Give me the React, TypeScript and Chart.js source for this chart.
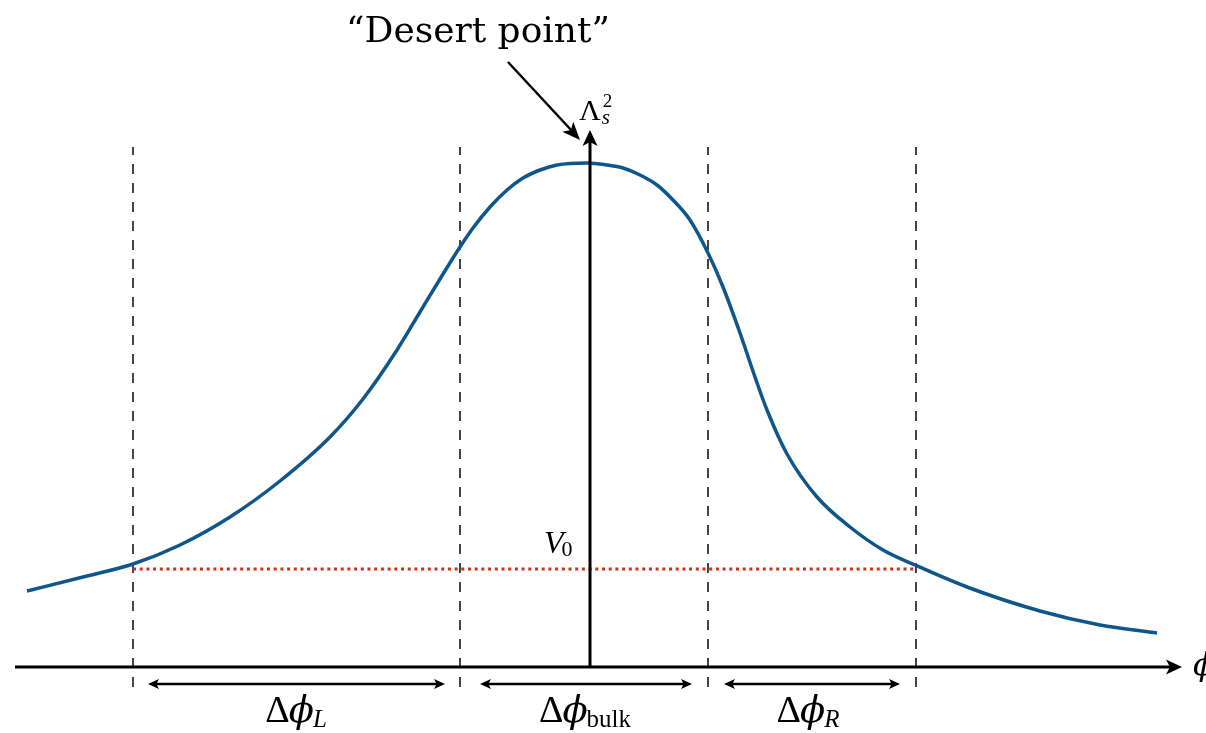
import React, { useEffect, useRef } from "react";
import { Chart, registerables } from "chart.js";
Chart.register(...registerables);

// Curve of the potential Λ_s^2 as a function of φ
const curvePhi = [-5.63, -5.07, -4.57, -4.1, -3.6, -3.1, -2.6, -2.27, -1.93, -1.7, -1.5, -1.3, -1.17, -1.0, -0.83, -0.67, -0.5, -0.33, -0.03, 0.17, 0.33, 0.5, 0.67, 0.83, 1.0, 1.18, 1.33, 1.5, 1.65, 1.77, 1.97, 2.27, 2.6, 2.93, 3.25, 3.77, 4.5, 5.1, 5.67];
const curveV = [0.76, 0.9, 1.03, 1.22, 1.5, 1.86, 2.3, 2.68, 3.17, 3.55, 3.88, 4.2, 4.39, 4.6, 4.77, 4.89, 4.97, 5.02, 5.04, 5.02, 4.99, 4.92, 4.82, 4.67, 4.47, 4.14, 3.8, 3.34, 2.9, 2.57, 2.13, 1.7, 1.4, 1.17, 1.02, 0.8, 0.56, 0.42, 0.34];

// Region boundaries (dashed verticals)
const boundaryPhi = [-4.57, -1.3, 1.18, 3.26];
const boundaryV = [-0.2, 5.2];

// V0 level
const v0Level = 0.98;
const v0Span = [-4.57, 3.26];

// Axes
const xAxisSpan = [-5.75, 5.92];
const yAxisSpan = [0, 5.37];

// Interval arrows
const intervalStart = [-4.42, -1.1, 1.34];
const intervalEnd = [-1.45, 1.02, 3.1];
const intervalLevel = -0.17;
const intervalLabelPhi = [-2.93, -0.04, 2.19];
const intervalSubs = ["L", "bulk", "R"];
const intervalSubItalic = [true, false, true];

// Annotation arrow
const desertFrom = [-0.82, 6.05];
const desertTo = [-0.1, 5.27];
const desertLabel = "\u201CDesert point\u201D";

const X_MIN = -5.9;
const X_MAX = 6.16;
const Y_MIN = -0.66;
const Y_MAX = 6.67;

function pts(xs: number[], ys: number[]) {
  return xs.map((x, i) => ({ x, y: ys[i] }));
}

function arrowHead(ctx: CanvasRenderingContext2D, tx: number, ty: number, angle: number, len: number, half: number) {
  ctx.save();
  ctx.translate(tx, ty);
  ctx.rotate(angle);
  ctx.beginPath();
  ctx.moveTo(0, 0);
  ctx.lineTo(-len, -half);
  ctx.lineTo(-len * 0.75, 0);
  ctx.lineTo(-len, half);
  ctx.closePath();
  ctx.fill();
  ctx.restore();
}

const overlay = {
  id: "overlay",
  afterDatasetsDraw(chart: any) {
    const ctx: CanvasRenderingContext2D = chart.ctx;
    const xs = chart.scales.x;
    const ys = chart.scales.y;
    const px = (v: number) => xs.getPixelForValue(v);
    const py = (v: number) => ys.getPixelForValue(v);
    ctx.save();
    ctx.fillStyle = "#000";
    // x axis arrow
    arrowHead(ctx, px(xAxisSpan[1]), py(0), 0, 16, 7.5);
    // y axis arrow
    arrowHead(ctx, px(0), py(yAxisSpan[1]), -Math.PI / 2, 16, 7.5);
    // interval arrows
    for (let i = 0; i < intervalStart.length; i++) {
      arrowHead(ctx, px(intervalEnd[i]), py(intervalLevel), 0, 11, 5);
      arrowHead(ctx, px(intervalStart[i]), py(intervalLevel), Math.PI, 11, 5);
    }
    // desert arrow
    {
      const x1 = px(desertFrom[0]), y1 = py(desertFrom[1]);
      const x2 = px(desertTo[0]), y2 = py(desertTo[1]);
      arrowHead(ctx, x2, y2, Math.atan2(y2 - y1, x2 - x1), 18, 7.5);
    }

    ctx.textBaseline = "alphabetic";
    // Desert point label
    ctx.font = "36px 'DejaVu Serif'";
    ctx.textAlign = "center";
    ctx.fillText(desertLabel, px(-1.12), py(6.25));

    // Λ_s^2
    ctx.textAlign = "left";
    ctx.font = "30px 'Liberation Serif'";
    const lx = px(0.0) - 11;
    const ly = py(5.47);
    ctx.fillText("\u039B", lx, ly);
    const lw = ctx.measureText("\u039B").width;
    ctx.font = "italic 21px 'Liberation Serif'";
    ctx.fillText("s", lx + lw + 1, ly + 4);
    ctx.font = "19px 'Liberation Serif'";
    ctx.fillText("2", lx + lw + 2, ly - 13);

    // V0
    ctx.font = "italic 32px 'Liberation Serif'";
    const vx = px(-0.46);
    const vy = py(1.14);
    ctx.fillText("V", vx, vy);
    const vw = ctx.measureText("V").width;
    ctx.font = "22px 'Liberation Serif'";
    ctx.fillText("0", vx + vw - 2, vy + 3);

    // φ at the end of x axis
    ctx.font = "italic 32px 'DejaVu Serif'";
    ctx.fillText("\u03D5", px(6.03), py(-0.08));

    // interval labels
    for (let i = 0; i < intervalLabelPhi.length; i++) {
      const big = "38px 'Liberation Serif'";
      const bigI = "italic 37px 'DejaVu Serif'";
      const sub = (intervalSubItalic[i] ? "italic " : "") + "25px 'Liberation Serif'";
      ctx.font = big;
      const wD = ctx.measureText("\u0394").width;
      ctx.font = bigI;
      const wP = ctx.measureText("\u03D5").width;
      ctx.font = sub;
      const wS = ctx.measureText(intervalSubs[i]).width;
      const total = wD + wP + wS;
      let x = px(intervalLabelPhi[i]) - total / 2;
      const y = py(-0.55);
      ctx.font = big;
      ctx.fillText("\u0394", x, y);
      x += wD;
      ctx.font = bigI;
      ctx.fillText("\u03D5", x - 1, y);
      x += wP;
      ctx.font = sub;
      ctx.fillText(intervalSubs[i], x - 2, y + 5);
    }
    ctx.restore();
  },
};

export default function App() {
  const ref = useRef<HTMLCanvasElement | null>(null);
  useEffect(() => {
    if (!ref.current) return;
    const datasets: any[] = [];
    // axes (drawn on top: first datasets drawn last)
    datasets.push({
      data: pts([0, 0], [yAxisSpan[0], yAxisSpan[1] - 0.1]),
      borderColor: "#000",
      borderWidth: 3,
    });
    datasets.push({
      data: pts([xAxisSpan[0], xAxisSpan[1] - 0.1], [0, 0]),
      borderColor: "#000",
      borderWidth: 3,
    });
    // interval arrows
    for (let i = 0; i < intervalStart.length; i++) {
      datasets.push({
        data: pts([intervalStart[i] + 0.05, intervalEnd[i] - 0.05], [intervalLevel, intervalLevel]),
        borderColor: "#000",
        borderWidth: 2.5,
      });
    }
    // desert arrow shaft
    datasets.push({
      data: pts([desertFrom[0], desertTo[0] - 0.08], [desertFrom[1], desertTo[1] + 0.09]),
      borderColor: "#000",
      borderWidth: 2.5,
    });
    // curve
    datasets.push({
      data: pts(curvePhi, curveV),
      borderColor: "#0f568a",
      borderWidth: 3.5,
      cubicInterpolationMode: "monotone",
    });
    // V0 dotted
    datasets.push({
      data: pts(v0Span, [v0Level, v0Level]),
      borderColor: "#c8321f",
      borderWidth: 3,
      borderDash: [3, 3.7],
    });
    // dashed boundaries
    boundaryPhi.forEach((b) => {
      datasets.push({
        data: pts([b, b], boundaryV),
        borderColor: "#444",
        borderWidth: 2,
        borderDash: [10, 9],
      });
    });
    datasets.forEach((d) => {
      d.pointRadius = 0;
      d.fill = false;
      d.clip = false;
    });
    const chart = new Chart(ref.current, {
      type: "line",
      data: { datasets },
      options: {
        animation: false,
        responsive: true,
        maintainAspectRatio: false,
        layout: { padding: 0 },
        plugins: { legend: { display: false }, tooltip: { enabled: false } },
        scales: {
          x: { type: "linear", min: X_MIN, max: X_MAX, display: false },
          y: { type: "linear", min: Y_MIN, max: Y_MAX, display: false },
        },
      },
      plugins: [overlay],
    });
    return () => chart.destroy();
  }, []);
  return (
    <div style={{ position: "absolute", left: 0, top: 0, width: 1206, height: 733, background: "#fff" }}>
      <canvas ref={ref} />
    </div>
  );
}
